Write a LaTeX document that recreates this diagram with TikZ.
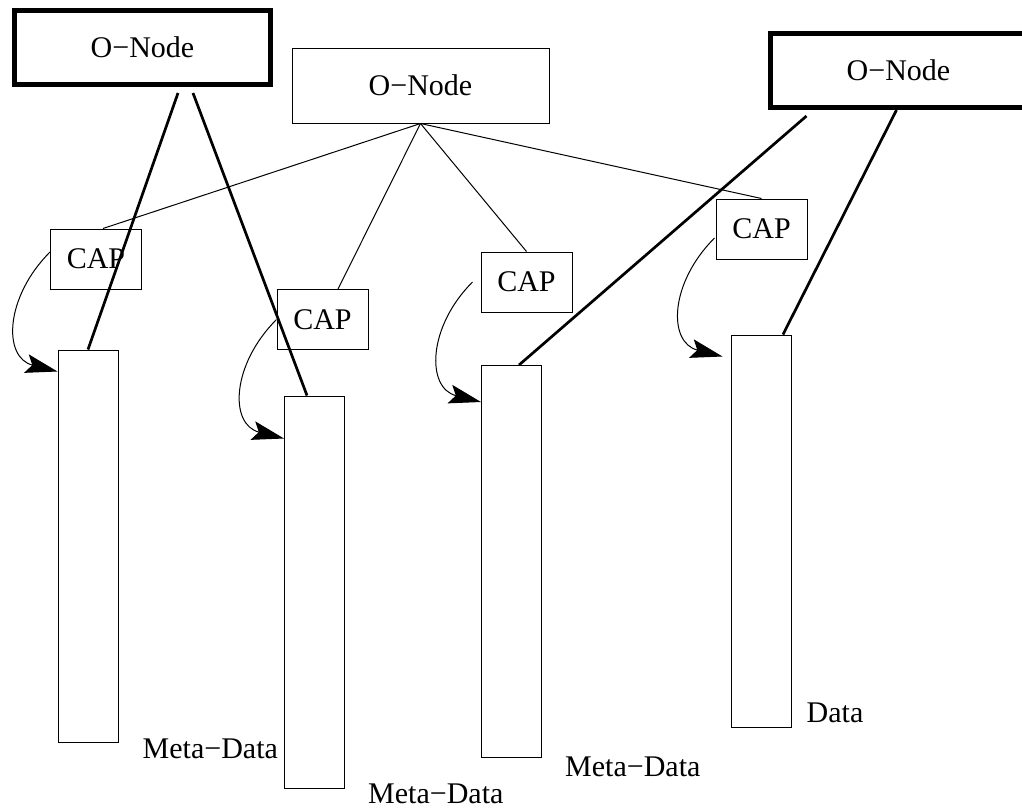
\documentclass[tikz,border=0pt]{standalone}
\usepackage{fontspec}
\setmainfont{Liberation Serif}
\usepackage{tikz}
\usetikzlibrary{calc}
\usetikzlibrary{arrows.meta}
\tikzstyle{onode}=[black, draw=black, line width=5pt, shape=rectangle, minimum width=256pt, minimum height=74pt, inner sep=0pt, font=\fontsize{30}{36}\selectfont]
\tikzstyle{rootnode}=[black, draw=black, line width=1pt, shape=rectangle, minimum width=257pt, minimum height=75pt, inner sep=0pt, font=\fontsize{30}{36}\selectfont]
\tikzstyle{capnode}=[black, draw=black, line width=1pt, shape=rectangle, minimum width=91pt, minimum height=60pt, inner sep=0pt, font=\fontsize{30}{36}\selectfont]
\tikzstyle{storenode}=[black, draw=black, line width=1pt, shape=rectangle, minimum width=60pt, minimum height=392pt, inner sep=0pt]
\tikzstyle{labelnode}=[shape=rectangle, inner sep=0pt, anchor=west, font=\fontsize{30}{36}\selectfont]

\begin{document}
\begin{tikzpicture}[x=1pt, y=-1pt]
\clip (0,0) rectangle (1022,807);
\node [onode] (oleft) at (142.5,47.5) {O−Node};
\node [rootnode] (oroot) at (420.5,85.5) {O−Node};
\node [onode] (oright) at (898.5,70) {O−Node};
\node [capnode] (cap1) at (96,259) {CAP};
\node [capnode] (cap2) at (322.5,319.5) {CAP};
\node [capnode] (cap3) at (526.5,282) {CAP};
\node [capnode] (cap4) at (761.5,229) {CAP};
\node [storenode] (store1) at (88,546) {};
\node [storenode] (store2) at (314.5,592) {};
\node [storenode] (store3) at (511.5,561.5) {};
\node [storenode] (store4) at (761,531) {};

\draw[line width=1pt, color=black] (oroot.south) -- ($(cap1.north)+(7,0)$);
\draw[line width=1pt, color=black] (oroot.south) -- ($(cap2.north)+(15.5,0)$);
\draw[line width=1pt, color=black] (oroot.south) -- (cap3.north);
\draw[line width=1pt, color=black] (oroot.south) -- (cap4.north);
\draw[line width=2.7pt, color=black] ($(oleft.south)+(35.5,6)$) -- (store1.north);
\draw[line width=2.7pt, color=black] ($(oleft.south)+(50.5,6)$) -- ($(store2.north)+(-7.5,0)$);
\draw[line width=2.7pt, color=black] ($(oright.south)+(-92,6.5)$) -- ($(store3.north)+(7.5,0)$);
\draw[line width=2.7pt, color=black] ($(oright.south)+(-2,0.5)$) -- ($(store4.north)+(22,0)$);

\draw[-{Stealth[length=32pt, width=19pt, inset=6pt]}, line width=1pt, color=black] ($(cap1.west)+(0,-7)$) .. controls +(-45,45) and +(-55,-14) .. ($(store1.north west)+(0,22)$);
\draw[-{Stealth[length=32pt, width=19pt, inset=6pt]}, line width=1pt, color=black] (cap2.west) .. controls +(-45,45) and +(-55,-14) .. ($(store2.north west)+(0,43)$);
\draw[-{Stealth[length=32pt, width=19pt, inset=6pt]}, line width=1pt, color=black] ($(cap3.west)+(-8,0)$) .. controls +(-45,45) and +(-55,-14) .. ($(store3.north west)+(0,37)$);
\draw[-{Stealth[length=32pt, width=19pt, inset=6pt]}, line width=1pt, color=black] ($(cap4.west)+(-1,9)$) .. controls +(-45,45) and +(-55,-14) .. ($(store4.north west)+(-8,22)$);

\node [labelnode] (meta1) at ($(store1.south east)+(24,6)$) {Meta−Data};
\node [labelnode] (meta2) at ($(store2.south east)+(23,5.5)$) {Meta−Data};
\node [labelnode] (meta3) at ($(store3.south east)+(23,9)$) {Meta−Data};
\node [labelnode] (data) at ($(store4.south east)+(15,-15)$) {Data};
\end{tikzpicture}
\end{document}
